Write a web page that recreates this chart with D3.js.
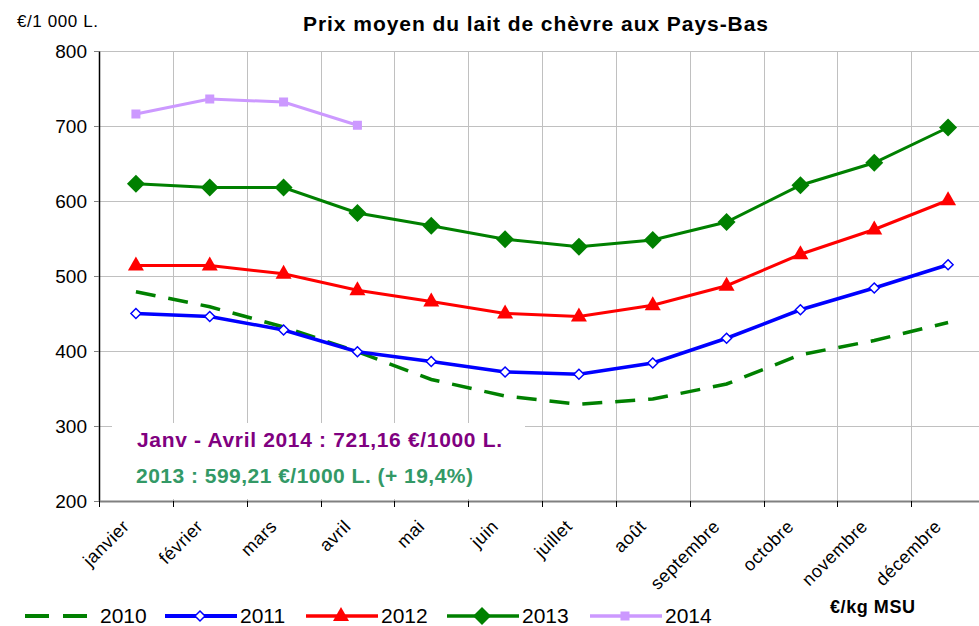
<!DOCTYPE html>
<html>
<head>
<meta charset="utf-8">
<script src="https://cdn.jsdelivr.net/npm/d3@7"></script>
<style>
  body { margin: 0; background: #fff; }
  svg { display: block; font-family: "Liberation Sans", Arial, sans-serif; }
</style>
</head>
<body>
<svg></svg>
<script>
const months = ["janvier", "février", "mars", "avril", "mai", "juin", "juillet",
  "août", "septembre", "octobre", "novembre", "décembre"];
const yTicks = [200, 300, 400, 500, 600, 700, 800];

const v2010 = [479, 459, 432, 399, 362, 340, 329, 336, 356, 395, 414, 438];
const v2011 = [450, 446, 428, 399, 386, 372, 369, 384, 417, 455, 484, 515];
const v2012 = [514, 514, 503, 481, 466, 450, 446, 461, 487, 529, 562, 601];
const v2013 = [623, 618, 618, 584, 567, 549, 539, 548, 572, 621, 651, 698];
const v2014 = [716, 736, 732, 701];

const series = [
  {name: "2010", values: v2010, color: "#008000", width: 3.5, dash: "20,13", marker: null},
  {name: "2011", values: v2011, color: "#0000ff", width: 3.5, dash: null, marker: "diamondOpen"},
  {name: "2012", values: v2012, color: "#ff0000", width: 3, dash: null, marker: "triangle"},
  {name: "2013", values: v2013, color: "#008000", width: 3, dash: null, marker: "diamond"},
  {name: "2014", values: v2014, color: "#cc99ff", width: 3, dash: null, marker: "square"}
];

const width = 979, height = 626;
const margin = {top: 51, right: -6, bottom: 125, left: 99};

const svg = d3.select("svg")
    .attr("width", width)
    .attr("height", height);

const x = d3.scaleBand()
    .domain(months)
    .range([margin.left, width - margin.right]);

const y = d3.scaleLinear()
    .domain([200, 800])
    .range([height - margin.bottom, margin.top]);

// gridlines
const grid = svg.append("g").attr("stroke", "#c0c0c0").attr("stroke-width", 1);
grid.selectAll("line.h")
    .data(yTicks.slice(1))
    .enter().append("line")
    .attr("x1", margin.left).attr("x2", width - margin.right)
    .attr("y1", d => y(d) + 0.5).attr("y2", d => y(d) + 0.5);
grid.selectAll("line.v")
    .data(months.slice(1))
    .enter().append("line")
    .attr("x1", d => Math.round(x(d)) + 0.5).attr("x2", d => Math.round(x(d)) + 0.5)
    .attr("y1", y(800)).attr("y2", y(200));

// axes
const yAxis = d3.axisLeft(y).tickValues(yTicks).tickSize(5).tickSizeOuter(0).tickPadding(7);
svg.append("g")
    .attr("transform", `translate(${margin.left},0)`)
    .call(yAxis)
    .call(g => g.select(".domain").attr("stroke", "#000").attr("stroke-width", 1.5))
    .call(g => g.selectAll(".tick line").attr("stroke", "#808080"))
    .call(g => g.selectAll("text").attr("font-size", 19).attr("fill", "#000")
      .attr("font-family", "Liberation Sans, Arial, sans-serif"));

// line generator
const line = d3.line()
    .x((d, i) => x(months[i]) + x.bandwidth() / 2)
    .y(d => y(d));

series.forEach(s => {
  svg.append("path")
      .datum(s.values)
      .attr("fill", "none")
      .attr("stroke", s.color)
      .attr("stroke-width", s.width)
      .attr("stroke-dasharray", s.dash)
      .attr("d", line);
});

function drawMarker(g, type, color, cx, cy) {
  if (type === "diamond") {
    g.append("path").attr("d", `M${cx},${cy - 9}L${cx + 9},${cy}L${cx},${cy + 9}L${cx - 9},${cy}Z`)
        .attr("fill", color);
  } else if (type === "diamondOpen") {
    g.append("path").attr("d", `M${cx},${cy - 5}L${cx + 5},${cy}L${cx},${cy + 5}L${cx - 5},${cy}Z`)
        .attr("fill", "#fff").attr("stroke", color).attr("stroke-width", 1.5);
  } else if (type === "triangle") {
    g.append("path").attr("d", `M${cx},${cy - 9}L${cx + 8},${cy + 5}L${cx - 8},${cy + 5}Z`)
        .attr("fill", color);
  } else if (type === "square") {
    g.append("rect").attr("x", cx - 4.5).attr("y", cy - 4.5).attr("width", 9).attr("height", 9)
        .attr("fill", color);
  }
}

series.filter(s => s.marker).forEach(s => {
  const g = svg.append("g");
  s.values.forEach((v, i) => drawMarker(g, s.marker, s.color, x(months[i]) + x.bandwidth() / 2, y(v)));
});

// annotation box
svg.append("rect")
    .attr("x", 112).attr("y", 423).attr("width", 413).attr("height", 76)
    .attr("fill", "#fff");
svg.append("text")
    .attr("x", 137).attr("y", 447)
    .attr("font-size", 21).attr("font-weight", "bold").attr("fill", "#800080")
    .attr("textLength", 365).attr("lengthAdjust", "spacing")
    .text("Janv - Avril 2014 : 721,16 €/1000 L.");
svg.append("text")
    .attr("x", 136).attr("y", 483)
    .attr("font-size", 21).attr("font-weight", "bold").attr("fill", "#339966")
    .attr("textLength", 337).attr("lengthAdjust", "spacing")
    .text("2013 : 599,21 €/1000 L. (+ 19,4%)");

// x axis
const xAxis = d3.axisBottom(x).tickSize(0).tickSizeOuter(0).tickFormat(() => "");
svg.append("g")
    .attr("transform", `translate(0,${y(200)})`)
    .call(xAxis)
    .call(g => g.select(".domain").attr("stroke", "#808080").attr("stroke-width", 2));

svg.append("g")
    .selectAll("line")
    .data(months)
    .enter().append("line")
    .attr("x1", d => Math.round(x(d)) + 0.5).attr("x2", d => Math.round(x(d)) + 0.5)
    .attr("y1", y(200)).attr("y2", y(200) + 6)
    .attr("stroke", "#000");

svg.append("g")
    .selectAll("text")
    .data(months)
    .enter().append("text")
    .attr("transform", d => `translate(${x(d) + x.bandwidth() / 2 - 10},${y(200) + 22}) rotate(-45)`)
    .attr("text-anchor", "end")
    .attr("dy", "0.35em")
    .attr("font-size", 18)
    .attr("letter-spacing", 0.5)
    .text(d => d);

// titles
svg.append("text")
    .attr("x", 303).attr("y", 31)
    .attr("font-size", 21).attr("font-weight", "bold")
    .attr("textLength", 465).attr("lengthAdjust", "spacing")
    .text("Prix moyen du lait de chèvre aux Pays-Bas");
svg.append("text")
    .attr("x", 17).attr("y", 27)
    .attr("font-size", 17)
    .attr("textLength", 81).attr("lengthAdjust", "spacing")
    .text("€/1 000 L.");
svg.append("text")
    .attr("x", 830).attr("y", 613)
    .attr("font-size", 18).attr("font-weight", "bold")
    .attr("textLength", 85).attr("lengthAdjust", "spacing")
    .text("€/kg MSU");

// legend
const legendX = [25, 165, 306, 447, 590];
const legend = svg.append("g");
series.forEach((s, i) => {
  const lx = legendX[i], ly = 616;
  legend.append("line")
      .attr("x1", lx).attr("x2", lx + 72)
      .attr("y1", ly).attr("y2", ly)
      .attr("stroke", s.color).attr("stroke-width", s.width + 0.5)
      .attr("stroke-dasharray", s.dash ? "24,14" : null);
  if (s.marker) drawMarker(legend, s.marker, s.color, lx + 35, ly);
  legend.append("text")
      .attr("x", lx + 75).attr("y", 623)
      .attr("font-size", 21)
      .text(s.name);
});
</script>
</body>
</html>
